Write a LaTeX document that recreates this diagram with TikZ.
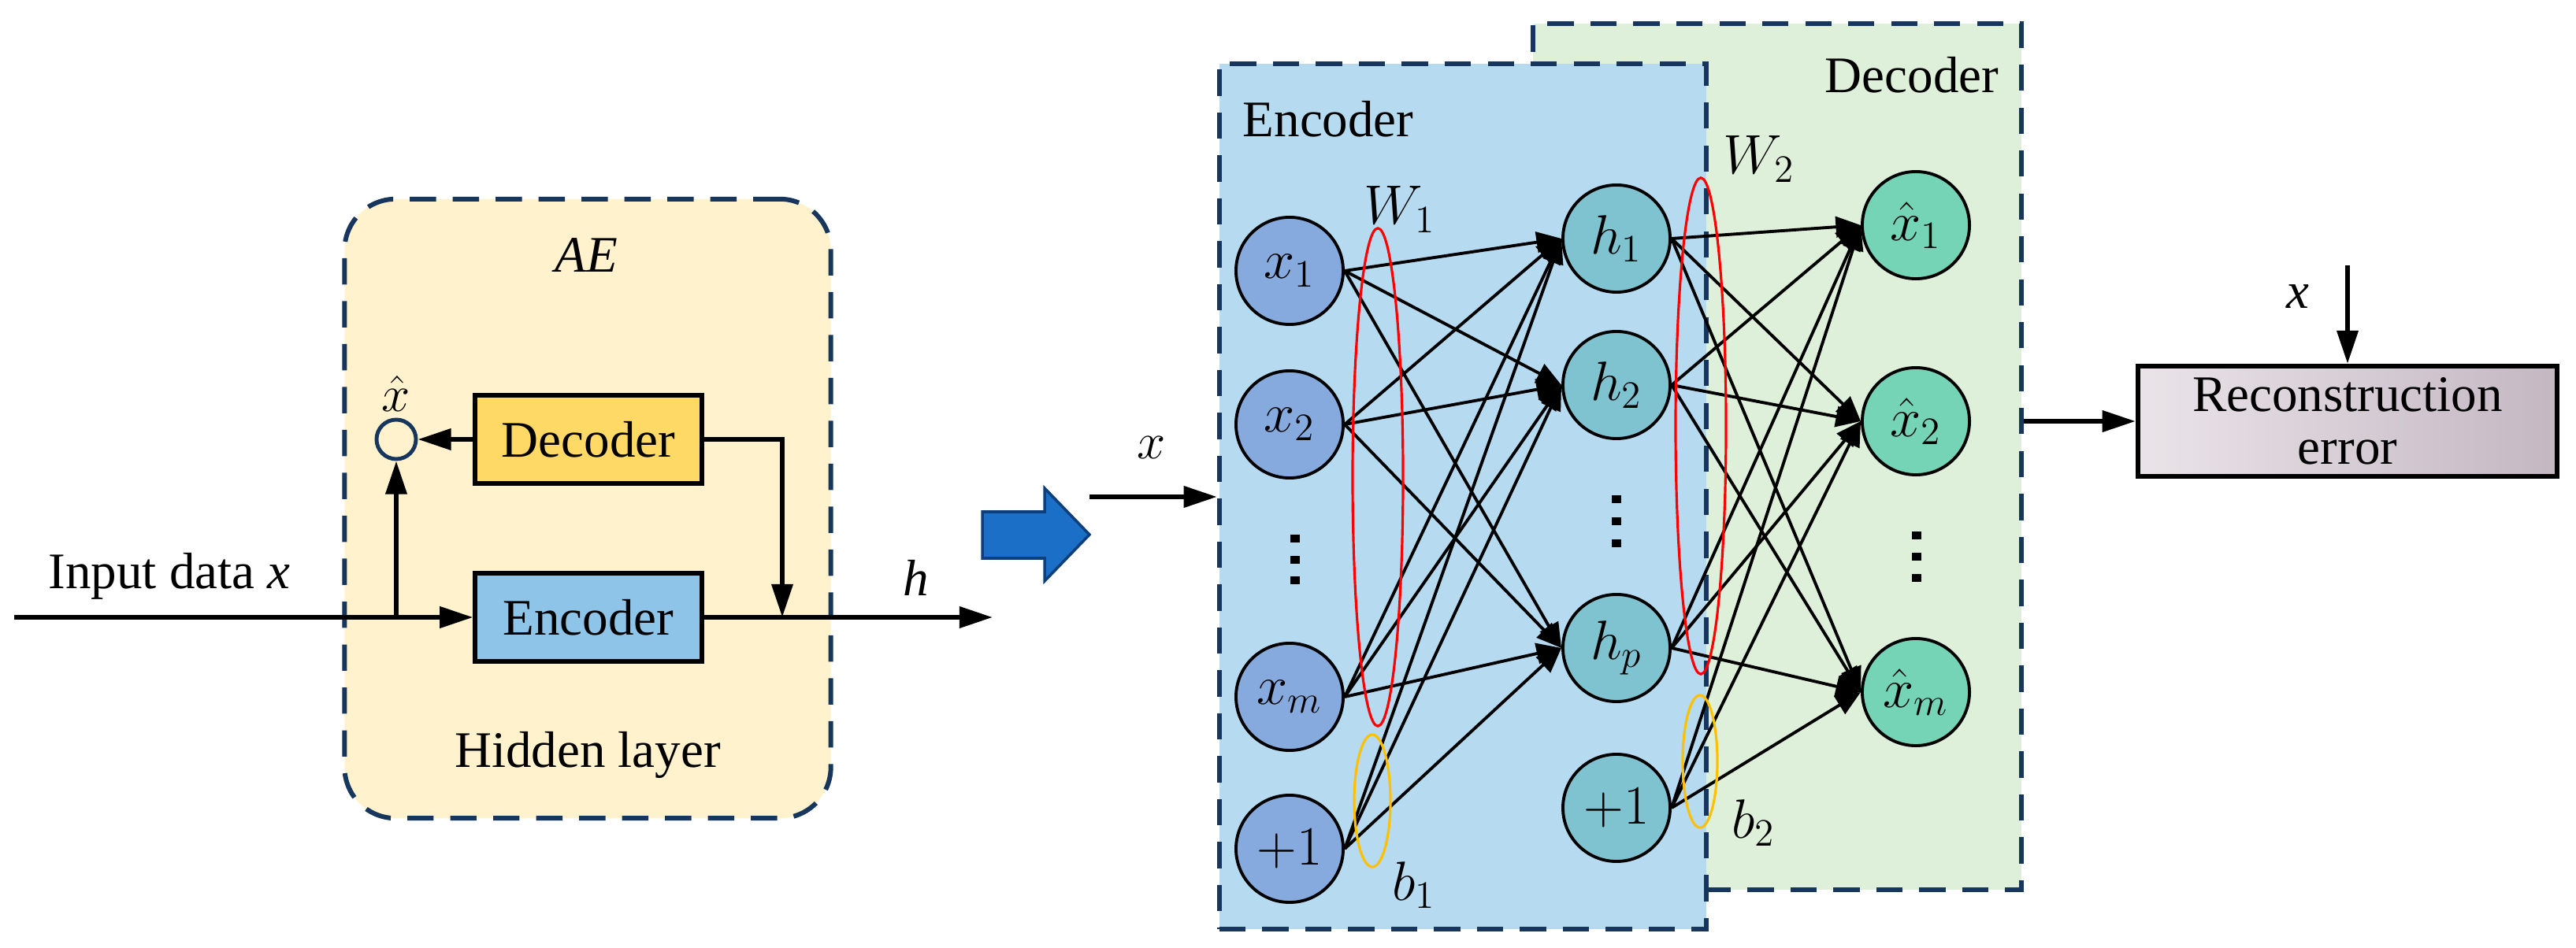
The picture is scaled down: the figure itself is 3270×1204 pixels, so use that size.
\RequirePackage{fix-cm}
\documentclass[tikz,border=0pt]{standalone}
\usepackage{fontspec}
\setmainfont{Liberation Serif}
\usetikzlibrary{positioning,arrows.meta,shapes.geometric}

\definecolor{navy}{HTML}{17365D}
\definecolor{aefill}{HTML}{FFF2CC}
\definecolor{decsmall}{HTML}{FFD966}
\definecolor{encsmall}{HTML}{8EC4E8}
\definecolor{encfill}{HTML}{B6DAF0}
\definecolor{decfill}{HTML}{DEF0DA}
\definecolor{xcol}{HTML}{86AADD}
\definecolor{hcol}{HTML}{7FC2D0}
\definecolor{ycol}{HTML}{74D4B5}
\definecolor{arrowblue}{HTML}{1C6FC6}
\definecolor{arrowedge}{HTML}{0D3F7A}
\definecolor{recl}{HTML}{EAE4E9}
\definecolor{recd}{HTML}{C4B7C2}
\definecolor{biasring}{HTML}{FFC000}

\tikzset{
  box/.style={draw, line width=1.7pt, minimum width=2.87cm, minimum height=1.11cm},
  dashbox/.style={draw=navy, line width=1.7pt, dash pattern=on 9.5pt off 6pt},
  unit/.style={circle, draw, line width=1.1pt, minimum size=1.36cm, inner sep=0pt, font=\fontsize{20}{22}\selectfont},
  ring/.style={ellipse, line width=0.9pt, inner sep=0pt},
  edge/.style={line width=1.1pt, -{Triangle[length=9pt,width=7.5pt]}},
  flow/.style={line width=1.7pt, -{Triangle[length=12pt,width=7.5pt]}},
}

\begin{document}
\begin{tikzpicture}[x=0.01cm,y=-0.01cm,font=\fontsize{18.5}{19}\selectfont]
  \useasboundingbox (0,0) rectangle (3270,1204);
  % AE block
  \node[dashbox, rounded corners=0.65cm, fill=aefill, minimum width=6.17cm, minimum height=7.86cm] (ae) at (746,646) {};
  \node[anchor=base] (aelabel) at (744,346) {\textit{AE}};
  \node[anchor=base] (hidlabel) at (746,975) {Hidden layer};
  \node[box, fill=decsmall] (dec) at (747,558) {Decoder};
  \node[box, fill=encsmall] (enc) at (747,784) {Encoder};
  \node[circle, draw=navy, line width=1.4pt, minimum size=0.5cm, inner sep=0pt] (xhat) at (503,558) {};
  \node[anchor=south, inner sep=2pt] (xhatlabel) at (xhat.north) {$\hat{x}$};
  \coordinate (in) at (18,784);
  \coordinate (split) at (xhat |- in);
  \coordinate (merge) at (993,784);
  \coordinate (hout) at (1260,784);
  \draw[flow] (in) -- (enc.west);
  \draw[flow] (split) -- (xhat.south);
  \draw[flow] (dec.west) -- (xhat.east);
  \draw[flow] (dec.east) -| (merge);
  \draw[flow] (enc.east) -- (hout);
  \node[anchor=base] (inlabel) at (215,748) {Input data \textit{x}};
  \node (hlabel) at (1163,734) {\textit{h}};

  % big arrow
  \draw[fill=arrowblue, draw=arrowedge, line width=1pt] (1247,650) -- (1326,650) -- (1326,620) -- (1383,679)
    -- (1326,738) -- (1326,709) -- (1247,709) -- cycle;

  % network
  \node[dashbox, fill=decfill, minimum width=6.2cm, minimum height=11cm] (decbox) at (2256,580) {};
  \node[dashbox, fill=encfill, minimum width=6.18cm, minimum height=10.99cm] (encbox) at (1857,630.5) {};
  \node[anchor=base west, inner sep=0pt] (enclabel) at (1577,174) {Encoder};
  \node[anchor=base east, inner sep=0pt] (declabel) at (2538,118) {Decoder};

  \node[unit, fill=xcol] (x1) at (1637,344) {$x_1$};
  \node[unit, fill=xcol] (x2) at (1637,539) {$x_2$};
  \node[unit, fill=xcol] (xm) at (1637,885) {$x_m$};
  \node[unit, fill=xcol] (xb) at (1637,1078) {$+1$};
  \node[unit, fill=hcol] (h1) at (2052,303) {$h_1$};
  \node[unit, fill=hcol] (h2) at (2052,489) {$h_2$};
  \node[unit, fill=hcol] (hp) at (2052,823) {$h_p$};
  \node[unit, fill=hcol] (hb) at (2052,1026) {$+1$};
  \node[unit, fill=ycol] (y1) at (2432,286) {$\hat{x}_1$};
  \node[unit, fill=ycol] (y2) at (2432,535) {$\hat{x}_2$};
  \node[unit, fill=ycol] (ym) at (2432,879) {$\hat{x}_m$};

  \foreach \y in {684,711,737} \fill (1638,\y-5) rectangle (1650,\y+5);
  \foreach \y in {634,662,690} \fill (2046,\y-5) rectangle (2058,\y+5);
  \foreach \y in {680,707,734} \fill (2427,\y-5) rectangle (2439,\y+5);

  \foreach \a in {x1,x2,xm,xb}
    \foreach \b in {h1,h2,hp}
      \draw[edge] (\a.east) -- (\b.west);
  \foreach \a in {h1,h2,hp,hb}
    \foreach \b in {y1,y2,ym}
      \draw[edge] (\a.east) -- (\b.west);

  \node[ring, draw=red, minimum width=0.64cm, minimum height=6.32cm] (w1ring) at (1749,606) {};
  \node[ring, draw=red, minimum width=0.64cm, minimum height=6.3cm] (w2ring) at (2159,541) {};
  \node[ring, draw=biasring, minimum width=0.46cm, minimum height=1.68cm] (b1ring) at (1742,1017) {};
  \node[ring, draw=biasring, minimum width=0.44cm, minimum height=1.68cm] (b2ring) at (2158,967) {};
  \node[font=\fontsize{20}{22}\selectfont] (w1label) at (1777,266) {$W_1$};
  \node[font=\fontsize{20}{22}\selectfont] (w2label) at (2233,202) {$W_2$};
  \node[font=\fontsize{20}{22}\selectfont] (b1label) at (1795,1124) {$b_1$};
  \node[font=\fontsize{20}{22}\selectfont] (b2label) at (2226,1045) {$b_2$};

  % input and reconstruction
  \coordinate (xin) at (1383,631);
  \draw[flow] (xin) -- (xin -| encbox.west);
  \node (xinlabel) at (1462,568) {$x$};
  \node[draw, line width=1.7pt, left color=recl, right color=recd, minimum width=5.32cm, minimum height=1.4cm, align=center] (rec) at (2980,535) {Reconstruction\\error};
  \draw[flow] (rec.west -| decbox.east) -- (rec.west);
  \coordinate (xref) at (2980,337);
  \draw[flow] (xref) -- (rec.north);
  \node (xreflabel) at (2917,377) {\textit{x}};
\end{tikzpicture}
\end{document}
